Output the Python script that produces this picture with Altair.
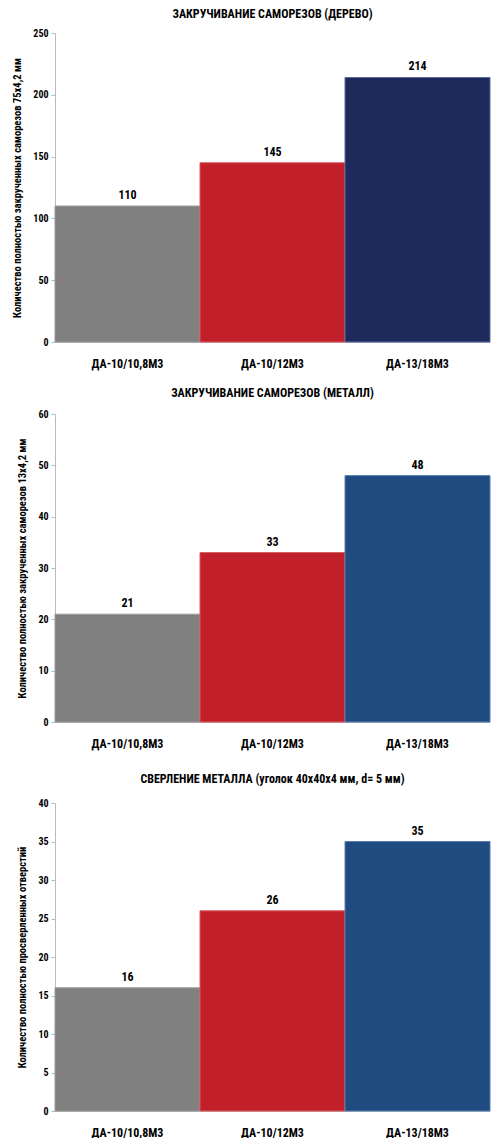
import altair as alt
import pandas as pd

models = ["ДА-10/10,8М3", "ДА-10/12М3", "ДА-13/18М3"]

titles = [
    "ЗАКРУЧИВАНИЕ САМОРЕЗОВ (ДЕРЕВО)",
    "ЗАКРУЧИВАНИЕ САМОРЕЗОВ (МЕТАЛЛ)",
    "СВЕРЛЕНИЕ МЕТАЛЛА (уголок 40х40х4 мм, d= 5 мм)",
]
y_titles = [
    "Количество полностью закрученных саморезов 75х4,2 мм",
    "Количество полностью закрученных саморезов 13х4,2 мм",
    "Количество полностью просверленных отверстий",
]
values_wood = [110, 145, 214]
values_metal = [21, 33, 48]
values_drill = [16, 26, 35]
y_max = [250, 60, 40]
y_step = [50, 10, 5]
colors_1 = ["#808080", "#c1202a", "#1f2a5c"]
colors_23 = ["#808080", "#c1202a", "#1f4b80"]
strokes_1 = ["#9a9a9a", "#d85a60", "#5a6aa0"]
strokes_23 = ["#9a9a9a", "#d85a60", "#5a80b0"]

FONT = "Liberation Sans Narrow, Roboto Condensed, Arial Narrow, sans-serif"


def panel(vals, title, ytitle, ymax, step, colors, strokes, toff, h):
    df = pd.DataFrame({"model": models, "value": vals, "color": colors, "stroke": strokes})
    x = alt.X("model:N", sort=models, title=None,
              scale=alt.Scale(paddingInner=0, paddingOuter=0),
              axis=alt.Axis(labelAngle=0, ticks=False, labelPadding=16,
                            labelFont=FONT, labelFontSize=12, labelFontWeight="bold",
                            labelColor="#000", domainColor="#bbbbbb"))
    y = alt.Y("value:Q", title=ytitle,
              scale=alt.Scale(domain=[0, ymax], nice=False),
              axis=alt.Axis(values=list(range(0, ymax + 1, step)), grid=False,
                            labelOverlap=False, tickCount=len(range(0, ymax + 1, step)),
                            tickSize=4, tickColor="#bbbbbb", domainColor="#bbbbbb",
                            labelFont=FONT, labelFontSize=10, labelFontWeight="bold",
                            labelColor="#000", labelPadding=3,
                            titleFont=FONT, titleFontSize=10.5, titleFontWeight="bold",
                            titleColor="#000", titlePadding=10))
    base = alt.Chart(df).encode(x=x, y=y)
    bars = base.mark_bar(strokeWidth=1).encode(
        color=alt.Color("color:N", scale=None),
        stroke=alt.Stroke("stroke:N", scale=None),
    )
    text = base.mark_text(dy=-11, font=FONT, fontSize=12, fontWeight="bold",
                          color="#000").encode(text="value:Q")
    return alt.layer(bars, text).properties(
        width=435, height=h,
        title=alt.TitleParams(title, font=FONT, fontSize=12, fontWeight="bold",
                              color="#000", offset=toff, anchor="middle"),
    )


c1 = panel(values_wood, titles[0], y_titles[0], y_max[0], y_step[0], colors_1, strokes_1, 7, 309)
c2 = panel(values_metal, titles[1], y_titles[1], y_max[1], y_step[1], colors_23, strokes_23, 9, 308)
c3 = panel(values_drill, titles[2], y_titles[2], y_max[2], y_step[2], colors_23, strokes_23, 12, 308)

chart = alt.vconcat(
    alt.vconcat(c1, c2, spacing=18), c3, spacing=24
).properties(padding={"left": 4, "top": 0, "right": 0, "bottom": 0}).configure_view(stroke=None)

chart.save("out.html", embed_options={"renderer": "svg", "actions": False})
